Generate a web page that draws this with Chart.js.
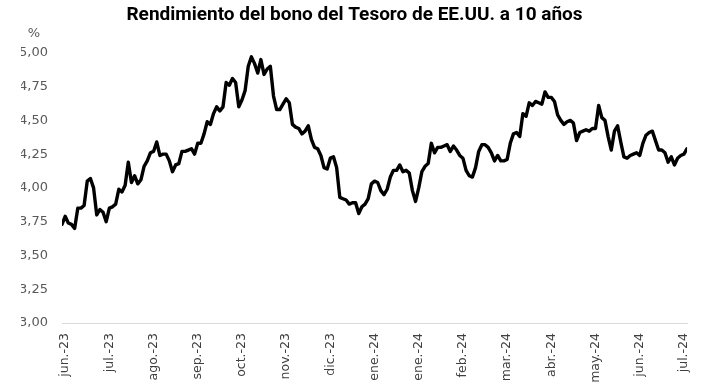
<!DOCTYPE html>
<html lang="es">
<head>
<meta charset="utf-8">
<title>Rendimiento del bono del Tesoro de EE.UU. a 10 años</title>
<script src="https://cdn.jsdelivr.net/npm/chart.js@4.4.1/dist/chart.umd.min.js"></script>
<style>
    html, body { margin: 0; padding: 0; background: #fff; }
    #yieldChart { display: block; }
</style>
</head>
<body>
<canvas id="yieldChart" width="709" height="391"></canvas>
<script>
// Chart data (daily closes)
const chartTitle = 'Rendimiento del bono del Tesoro de EE.UU. a 10 años';
const unitLabel = '%';

// Month labels on the x axis, one every 14 points starting at point 1
const tickLabels = ['jun.-23', 'jul.-23', 'ago.-23', 'sep.-23', 'oct.-23', 'nov.-23', 'dic.-23',
    'ene.-24', 'ene.-24', 'feb.-24', 'mar.-24', 'abr.-24', 'may.-24', 'jun.-24', 'jul.-24'];
const tickStart = 1;
const tickStep = 14;

// Y axis range
const yMin = 3;
const yMax = 5;
const yStep = 0.25;

// 10-year yield, %
const yields = [
    3.73, 3.79, 3.74, 3.73, 3.70, 3.85, 3.85, 3.87, 4.05, 4.07,
    4.00, 3.80, 3.84, 3.82, 3.75, 3.85, 3.86, 3.88, 3.99, 3.97,
    4.02, 4.19, 4.04, 4.09, 4.03, 4.06, 4.16, 4.20, 4.26, 4.27,
    4.34, 4.24, 4.25, 4.25, 4.20, 4.12, 4.17, 4.18, 4.27, 4.27,
    4.28, 4.29, 4.25, 4.33, 4.33, 4.40, 4.49, 4.47, 4.55, 4.60,
    4.57, 4.60, 4.78, 4.76, 4.81, 4.78, 4.60, 4.65, 4.72, 4.90,
    4.97, 4.92, 4.85, 4.95, 4.84, 4.88, 4.90, 4.68, 4.58, 4.58,
    4.62, 4.66, 4.63, 4.47, 4.45, 4.44, 4.40, 4.42, 4.46, 4.36,
    4.30, 4.29, 4.24, 4.15, 4.14, 4.22, 4.23, 4.15, 3.93, 3.92,
    3.91, 3.88, 3.89, 3.89, 3.81, 3.86, 3.88, 3.92, 4.03, 4.05,
    4.04, 3.98, 3.95, 3.99, 4.08, 4.13, 4.13, 4.17, 4.12, 4.13,
    4.11, 3.98, 3.90, 4.00, 4.12, 4.16, 4.18, 4.33, 4.26, 4.30,
    4.30, 4.31, 4.32, 4.27, 4.31, 4.28, 4.24, 4.22, 4.13, 4.09,
    4.08, 4.15, 4.27, 4.32, 4.32, 4.30, 4.26, 4.20, 4.24, 4.20,
    4.20, 4.21, 4.33, 4.40, 4.41, 4.38, 4.55, 4.53, 4.63, 4.61,
    4.64, 4.63, 4.62, 4.71, 4.67, 4.67, 4.64, 4.54, 4.50, 4.47,
    4.49, 4.50, 4.48, 4.35, 4.41, 4.42, 4.43, 4.42, 4.44, 4.44,
    4.61, 4.52, 4.50, 4.38, 4.28, 4.42, 4.46, 4.34, 4.23, 4.22,
    4.24, 4.25, 4.26, 4.24, 4.33, 4.39, 4.41, 4.42, 4.35, 4.28,
    4.28, 4.26, 4.19, 4.23, 4.17, 4.22, 4.24, 4.25, 4.29
];

// Spanish decimal comma
function formatPercent(value) {
    return value.toFixed(2).replace('.', ',');
}

// Draws the "%" unit above the y axis labels
const unitPlugin = {
    id: 'unitLabel',
    afterDraw(chart) {
        const y = chart.scales.y;
        const ctx = chart.ctx;
        ctx.save();
        ctx.font = '13px "DejaVu Sans", sans-serif';
        ctx.fillStyle = '#595959';
        ctx.textAlign = 'center';
        ctx.textBaseline = 'middle';
        ctx.fillText(unitLabel, 34, y.getPixelForValue(yMax) - 19);
        ctx.restore();
    }
};

function initializeChart() {
    const ctx = document.getElementById('yieldChart');
    const points = yields.map((v, i) => ({ x: i, y: v }));

    new Chart(ctx, {
        type: 'line',
        data: {
            datasets: [{
                label: '10 años',
                data: points,
                borderColor: '#000000',
                borderWidth: 3.4,
                borderJoinStyle: 'round',
                borderCapStyle: 'round',
                pointRadius: 0,
                tension: 0,
                fill: false
            }]
        },
        options: {
            responsive: false,
            devicePixelRatio: 1,
            animation: false,
            layout: {
                // symmetric so the title is centred on the whole picture
                padding: { left: 21, right: 21, top: 0, bottom: 0 }
            },
            plugins: {
                legend: { display: false },
                tooltip: { enabled: false },
                title: {
                    display: true,
                    text: chartTitle,
                    color: '#000000',
                    font: { family: '"Roboto", sans-serif', size: 19, weight: 'bold' },
                    padding: { top: 4, bottom: 26 }
                }
            },
            scales: {
                x: {
                    type: 'linear',
                    min: 0,
                    max: yields.length - 1,
                    grid: { display: false, drawTicks: false },
                    border: { display: true, color: '#d9d9d9', width: 1 },
                    afterBuildTicks: function(scale) {
                        scale.ticks = tickLabels.map((l, k) => ({ value: tickStart + k * tickStep }));
                    },
                    afterFit: function(scale) {
                        scale.height = 68;
                    },
                    ticks: {
                        autoSkip: false,
                        minRotation: 90,
                        maxRotation: 90,
                        padding: 10,
                        color: '#404040',
                        font: { family: '"DejaVu Sans", sans-serif', size: 12.5 },
                        callback: function(value) {
                            const k = Math.round((value - tickStart) / tickStep);
                            return tickLabels[k] || '';
                        }
                    }
                },
                y: {
                    min: yMin,
                    max: yMax,
                    grid: { display: false, drawTicks: false },
                    border: { display: false },
                    afterFit: function(scale) {
                        scale.width = 41;
                    },
                    ticks: {
                        stepSize: yStep,
                        padding: 14,
                        color: '#595959',
                        font: { family: '"DejaVu Sans", sans-serif', size: 13 },
                        callback: function(value) {
                            return formatPercent(value);
                        }
                    }
                }
            }
        },
        plugins: [unitPlugin]
    });
}

initializeChart();
</script>
</body>
</html>
